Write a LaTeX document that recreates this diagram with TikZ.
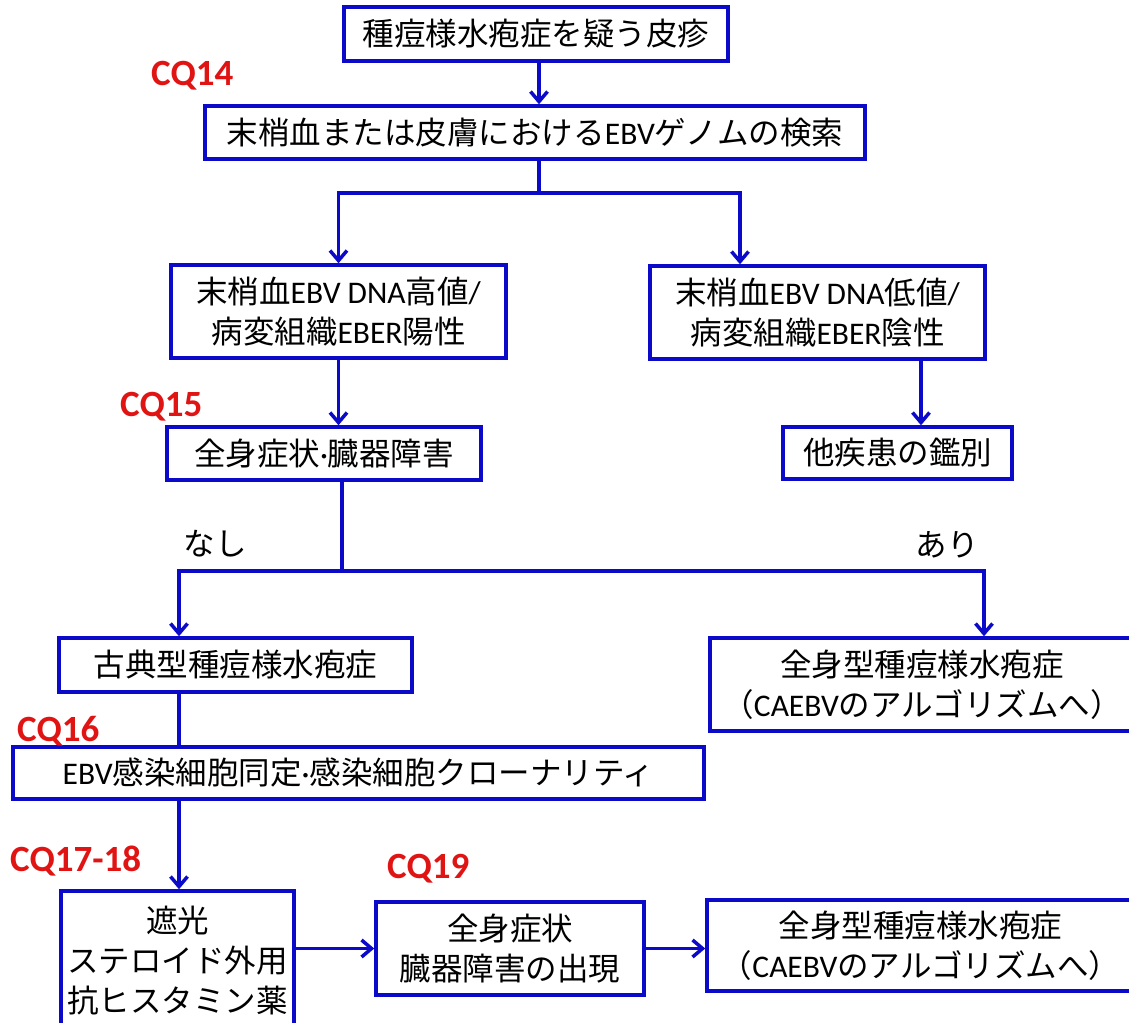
\documentclass[tikz,border=0pt]{standalone}
\usepackage{fontspec}
\setmainfont{Noto Sans CJK JP}
\newfontfamily\latfont{Carlito}
\newcommand\latn[1]{{\latfont #1}}
\usetikzlibrary{arrows.meta}
\definecolor{fblue}{RGB}{10,10,200}
\definecolor{fred}{RGB}{225,20,20}
\begin{document}
\begin{tikzpicture}[x=1pt,y=-1pt,
  box/.style={draw=fblue, line width=3.5pt, fill=white, inner sep=0pt, align=center,
    font=\fontsize{31.5}{40}\selectfont},
  conn/.style={draw=fblue, line width=3.5pt},
  arr/.style={conn, -{Straight Barb[length=10pt,width=17pt]}},
  cq/.style={text=fred, font=\latfont\bfseries\fontsize{37}{40}\selectfont, inner sep=0pt, anchor=base west},
  lbl/.style={font=\fontsize{31.5}{40}\selectfont, inner sep=0pt}]
\useasboundingbox (0,0) rectangle (1129,1022);
\clip (0,0) rectangle (1129,1022);
\fill[white] (0,0) rectangle (1129,1022);

% boxes
\node[box, minimum width=384pt, minimum height=54pt] (b1) at (536,34) {種痘様水疱症を疑う皮疹};
\node[box, minimum width=660pt, minimum height=53pt] (b2) at (535,132.5) {末梢血または皮膚における\latn{EBV}ゲノムの検索};
\node[box, minimum width=335pt, minimum height=93pt] (b3) at (338.5,311.5) {末梢血\latn{EBV DNA}高値\latn{/}\\病変組織\latn{EBER}陽性};
\node[box, minimum width=335pt, minimum height=93pt] (b4) at (817.5,312.5) {末梢血\latn{EBV DNA}低値\latn{/}\\病変組織\latn{EBER}陰性};
\node[box, minimum width=314pt, minimum height=53pt] (b5) at (324,453.5) {全身症状\latn{·}臓器障害};
\node[box, minimum width=229pt, minimum height=52pt] (b6) at (897.5,453) {他疾患の鑑別};
\node[box, minimum width=424pt, minimum height=93pt] (b7) at (922,684.5) {全身型種痘様水疱症\\（\latn{CAEBV}のアルゴリズムへ）};
\node[box, minimum width=353pt, minimum height=54pt] (b8) at (235.5,665) {古典型種痘様水疱症};
\node[box, minimum width=691pt, minimum height=52pt] (b9) at (358.5,773) {\latn{EBV}感染細胞同定\latn{·}感染細胞クローナリティ};
\node[box, minimum width=233pt, minimum height=139pt] (b10) at (177.5,960.5) {遮光\\ステロイド外用\\抗ヒスタミン薬};
\node[box, minimum width=268pt, minimum height=93pt] (b11) at (510,948.5) {全身症状\\臓器障害の出現};
\node[box, minimum width=427pt, minimum height=91pt] (b12) at (920.5,945.5) {全身型種痘様水疱症\\（\latn{CAEBV}のアルゴリズムへ）};

% labels
\node[cq] (q14) at (151,86) {CQ14};
\node[cq] (q15) at (120,416) {CQ15};
\node[cq] (q16) at (17,741) {CQ16};
\node[cq] (q17) at (10,871) {CQ17-18};
\node[cq] (q19) at (387,878) {CQ19};
\node[lbl] (nashi) at (215,544) {なし};
\node[lbl] (ari) at (947,545) {あり};

% junction coordinates
\coordinate (j1) at (539,193);
\coordinate (j1r) at (740,193);
\coordinate (k) at (921,0);
\coordinate (j2) at (342,571);
\coordinate (j2l) at (179,571);
\coordinate (j2r) at (984,571);

% connectors
\draw[arr] (b1.south -| j1) -- (b2.north -| j1);
\draw[conn] (b2.south -| j1) -- (j1);
\draw[arr] (j1) -| (b3.north);
\draw[arr] (j1) -- (j1r) -- (b4.north -| j1r);
\draw[arr] (b3.south) -- (b5.north -| b3.south);
\draw[arr] (b4.south -| k) -- (b6.north -| k);
\draw[conn] (b5.south -| j2) -- (j2);
\draw[arr] (j2) -- (j2l) -- (b8.north -| j2l);
\draw[arr] (j2) -- (j2r) -- (b7.north -| j2r);
\draw[conn] (b8.south -| j2l) -- (b9.north -| j2l);
\draw[arr] (b9.south -| j2l) -- (b10.north -| j2l);
\draw[arr] (b10.east |- b11.west) -- (b11.west);
\draw[arr] (b11.east) -- (b12.west |- b11.east);
\end{tikzpicture}
\end{document}
